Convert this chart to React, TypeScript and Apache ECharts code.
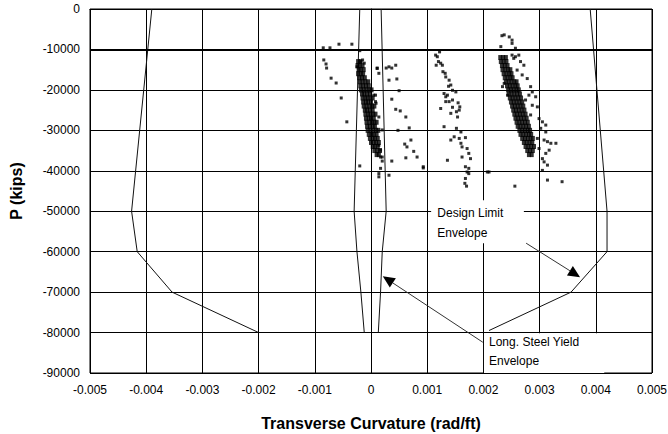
import React, { useEffect, useRef } from "react";
import * as echarts from "echarts";

// ---- axis settings ----
const xMin = -0.005;
const xMax = 0.005;
const xStep = 0.001;
const yMin = -90000;
const yMax = 0;
const yStep = 10000;

// ---- envelopes (curvature, P) ----
const designLeftCurv = [-0.0039, -0.00426, -0.00416, -0.00354, -0.002];
const designLeftP = [0, -50000, -60000, -70000, -80000];
const designRightCurv = [0.0039, 0.0042, 0.0042, 0.00356, 0.0021];
const designRightP = [0, -50000, -60000, -70000, -79500];
const yieldLeftCurv = [-0.0002, -0.0003, -0.00025, -0.00018, -0.00012];
const yieldLeftP = [0, -50000, -60000, -70000, -80000];
const yieldRightCurv = [0.00018, 0.00027, 0.0002, 0.00017, 0.00013];
const yieldRightP = [0, -50000, -60000, -70000, -80000];

// ---- dense measurement bands: [P, curvatures...] ----
const denseZeroRows: [number, number[]][] = [
  [-13000, [-0.00023, -0.00019]],
  [-14000, [-0.00024, -0.0002, -0.00015]],
  [-15000, [-0.00022, -0.00018, -0.00013]],
  [-16000, [-0.00023, -0.00018, -0.00014]],
  [-17000, [-0.00021, -0.00016, -0.00011]],
  [-18000, [-0.0002, -0.00015, -0.0001, -0.00005]],
  [-19000, [-0.00019, -0.00014, -0.00009, -0.00004]],
  [-20000, [-0.00018, -0.00013, -0.00008, -0.00003, 0.00001]],
  [-21000, [-0.00016, -0.00012, -0.00007, -0.00002]],
  [-22000, [-0.00015, -0.0001, -0.00006, -0.00001, 0.00003]],
  [-23000, [-0.00014, -0.00009, -0.00005, 0.0]],
  [-24000, [-0.00013, -0.00008, -0.00003, 0.00002, 0.00006]],
  [-25000, [-0.00011, -0.00007, -0.00002, 0.00003]],
  [-26000, [-0.0001, -0.00005, -0.00001, 0.00004, 0.00008]],
  [-27000, [-0.00009, -0.00004, 0.0, 0.00005]],
  [-28000, [-0.00008, -0.00003, 0.00002, 0.00006, 0.0001]],
  [-29000, [-0.00007, -0.00002, 0.00003, 0.00007]],
  [-30000, [-0.00006, -0.00001, 0.00004, 0.00009, 0.00013]],
  [-31000, [-0.00004, 0.00001, 0.00005, 0.0001]],
  [-32000, [-0.00002, 0.00003, 0.00007, 0.00012]],
  [-33000, [0.0, 0.00005, 0.00009, 0.00014]],
  [-34000, [0.00003, 0.00007, 0.00012]],
  [-35000, [0.00006, 0.00011, 0.00016]],
  [-36000, [0.0001, 0.00014]],
];

const denseRightRows: [number, number[]][] = [
  [-12000, [0.0023, 0.00235, 0.0024]],
  [-13000, [0.00231, 0.00236, 0.00241]],
  [-14000, [0.00233, 0.00238, 0.00243]],
  [-15000, [0.00234, 0.00239, 0.00244, 0.00248]],
  [-16000, [0.00236, 0.00241, 0.00246, 0.0025]],
  [-17000, [0.00238, 0.00243, 0.00248, 0.00252]],
  [-18000, [0.0024, 0.00245, 0.0025, 0.00255, 0.00259]],
  [-19000, [0.00242, 0.00247, 0.00252, 0.00257, 0.00261]],
  [-20000, [0.00244, 0.00249, 0.00254, 0.00259, 0.00263]],
  [-21000, [0.00245, 0.0025, 0.00255, 0.0026, 0.00265]],
  [-22000, [0.00247, 0.00252, 0.00257, 0.00262, 0.00267]],
  [-23000, [0.00249, 0.00254, 0.00259, 0.00264, 0.00269]],
  [-24000, [0.00251, 0.00256, 0.00261, 0.00266, 0.00271]],
  [-25000, [0.00253, 0.00258, 0.00263, 0.00268, 0.00273]],
  [-26000, [0.00255, 0.0026, 0.00265, 0.0027, 0.00275]],
  [-27000, [0.00257, 0.00262, 0.00267, 0.00272, 0.00277]],
  [-28000, [0.00259, 0.00264, 0.00269, 0.00274, 0.00279]],
  [-29000, [0.00261, 0.00266, 0.00271, 0.00276, 0.00281]],
  [-30000, [0.00264, 0.00269, 0.00274, 0.00279, 0.00283]],
  [-31000, [0.00266, 0.00271, 0.00276, 0.00281, 0.00285]],
  [-32000, [0.00269, 0.00274, 0.00279, 0.00284, 0.00288]],
  [-33000, [0.00272, 0.00277, 0.00282, 0.00287]],
  [-34000, [0.00275, 0.0028, 0.00285, 0.0029]],
  [-35000, [0.00278, 0.00283, 0.00288]],
  [-36000, [0.00281, 0.00286]],
];

// ---- sparse measurements [curvature, P] ----
const sparseLeft: [number, number][] = [
  [-0.00085, -9600], [-0.00073, -9600], [-0.00057, -8700], [-0.00034, -8700],
  [-0.0002, -10300], [-0.00084, -12600], [-0.0008, -13600], [-0.00079, -14600],
  [-0.00071, -17100], [-0.00062, -18300], [-0.00053, -22000], [-0.00043, -27900],
  [-0.0002, -38800],
];

const sparseNearZero: [number, number][] = [
  [0.00011, -14600], [0.00027, -14600], [0.00032, -14300], [0.00037, -14600],
  [0.00044, -13900], [0.00032, -17600], [0.00046, -17300], [0.0005, -20200],
  [0.00037, -22300], [0.00044, -24800], [0.00052, -25200], [0.00062, -26700],
  [0.00048, -30000], [0.00068, -29400], [0.00071, -32400], [0.0006, -33400],
  [0.00064, -34100], [0.00076, -35200], [0.00082, -36600], [0.00062, -36800],
  [0.00037, -37600], [0.00093, -39300], [0.00032, -41100], [0.00014, -41500],
  [0.0002, -37600], [0.00017, -36600], [0.00008, -21300], [0.00009, -23300],
  [-0.00025, -14300], [-0.00018, -13000], [-0.00015, -12600], [-0.00012, -13400],
  [0.00011, -14700], [0.00014, -15900], [0.00005, -21300], [0.00008, -22900],
  [0.00014, -26700], [0.0002, -29900], [0.00014, -33700], [0.00017, -34900],
  [0.0002, -36600], [0.00017, -39400], [0.00014, -40700],
];

const sparseMiddle: [number, number][] = [
  [0.00122, -10600], [0.00118, -11800], [0.0012, -13000], [0.00124, -13400],
  [0.00116, -13900], [0.00127, -13900], [0.00128, -15500], [0.00132, -15900],
  [0.00133, -16800], [0.00139, -17600], [0.00142, -18800], [0.00138, -19100],
  [0.00145, -20100], [0.00151, -20500], [0.0013, -20900], [0.00136, -21300],
  [0.00133, -21700], [0.00145, -22500], [0.00133, -22900], [0.00139, -22900],
  [0.00155, -23200], [0.00158, -24200], [0.00157, -25000], [0.00124, -24600],
  [0.00145, -24300], [0.00152, -25400], [0.00154, -26700], [0.00142, -25800],
  [0.0013, -29100], [0.00152, -29500], [0.0016, -30400], [0.00148, -31600],
  [0.00142, -32400], [0.00157, -32000], [0.0016, -33200], [0.00162, -34100],
  [0.00168, -31800], [0.00171, -34500], [0.00174, -35700], [0.00162, -36600],
  [0.00177, -37000], [0.00136, -37400], [0.00168, -39000], [0.00174, -39400],
  [0.00171, -40300], [0.00174, -40700], [0.00168, -41900], [0.00167, -43100],
  [0.0017, -43800], [0.00093, -39000], [0.00207, -40300], [0.00115, -11400],
];

const sparseRight: [number, number][] = [
  [0.00233, -6600], [0.00237, -6400], [0.00246, -6900], [0.00251, -7700],
  [0.00251, -8500], [0.00231, -9300], [0.00257, -9700], [0.00251, -11400],
  [0.00254, -12200], [0.00257, -11800], [0.00263, -11400], [0.00266, -13000],
  [0.00272, -13900], [0.0026, -15100], [0.00269, -16300], [0.00278, -17200],
  [0.00284, -19200], [0.00287, -20500], [0.00281, -21300], [0.00293, -21700],
  [0.00275, -22500], [0.00287, -23800], [0.00296, -24200], [0.00284, -26200],
  [0.00299, -27100], [0.00305, -27900], [0.00311, -28700], [0.00302, -29500],
  [0.00311, -30400], [0.00296, -32000], [0.00308, -32400], [0.00314, -32800],
  [0.0032, -33200], [0.00329, -33200], [0.00299, -34500], [0.00317, -34900],
  [0.00311, -35700], [0.00305, -37000], [0.00308, -37800], [0.00314, -38600],
  [0.00305, -39900], [0.00314, -42300], [0.0034, -42700], [0.0021, -40300],
  [0.00256, -43800], [0.00234, -19200], [0.00243, -21300], [0.00237, -18400],
];

// ---- annotations (data units) ----
const designLines = ["Design Limit", "Envelope"];
const designTextAt: [number, number][] = [[0.00118, -50500], [0.00118, -55400]];
const designBox: [number, number, number, number] = [0.00107, -47300, 0.00272, -57900];
const designArrow: [number, number, number, number] = [0.00276, -57900, 0.00372, -66300];
const steelLines = ["Long. Steel Yield", "Envelope"];
const steelTextAt: [number, number][] = [[0.0021, -82400], [0.0021, -87100]];
const steelBox: [number, number, number, number] = [0.00201, -80200, 0.00415, -90000];
const steelArrow: [number, number, number, number] = [0.00199, -82400, 0.00021, -66100];

const zip = (xs: number[], ps: number[]) => xs.map((x, i) => [x, ps[i]]);
const flatRows = (rows: [number, number[]][]) =>
  rows.flatMap(([p, xs]) => xs.map((x) => [x, p]));

const FONT = '"Liberation Sans", Arial, sans-serif';

export default function App() {
  const ref = useRef<HTMLDivElement>(null);
  useEffect(() => {
    if (!ref.current) return;
    const chart = echarts.init(ref.current, null, { renderer: "svg" });
    const envStyle = { color: "#111", width: 1 };
    const option: any = {
      animation: false,
      backgroundColor: "#fff",
      grid: {
        left: 90, right: 16, top: 9, bottom: 61,
        show: true, borderColor: "#000", borderWidth: 1,
        outerBoundsMode: "none",
      },
      xAxis: {
        type: "value", min: xMin, max: xMax, interval: xStep,
        name: "Transverse Curvature (rad/ft)",
        nameLocation: "middle", nameGap: 42,
        nameTextStyle: { fontFamily: FONT, fontWeight: "bold", fontSize: 16, color: "#000" },
        axisLine: { show: true, lineStyle: { color: "#000", width: 1 } },
        axisTick: { show: false },
        axisLabel: {
          margin: 11, fontFamily: FONT, fontSize: 12, color: "#000",
          formatter: (v: number) => (Math.abs(v) < 1e-9 ? "0" : v.toFixed(3)),
        },
        splitLine: { show: true, lineStyle: { color: "#000", width: 1 } },
      },
      yAxis: {
        type: "value", min: yMin, max: yMax, interval: yStep,
        name: "P (kips)", nameLocation: "middle", nameGap: 66, nameRotate: 90,
        nameTextStyle: { fontFamily: FONT, fontWeight: "bold", fontSize: 16, color: "#000" },
        axisLine: { show: true, lineStyle: { color: "#000", width: 1 } },
        axisTick: { show: false },
        axisLabel: {
          margin: 10, fontFamily: FONT, fontSize: 12, color: "#000",
          formatter: (v: number) => String(Math.round(v)),
        },
        splitLine: { show: true, lineStyle: { color: "#000", width: 1 } },
      },
      series: [
        {
          type: "line", data: zip(designLeftCurv, designLeftP), showSymbol: false,
          lineStyle: envStyle, z: 3,
          markLine: {
            silent: true, symbol: "none", label: { show: false },
            lineStyle: { color: "#000", width: 2, type: "solid" },
            data: [{ yAxis: -10000 }],
          },
        },
        { type: "line", data: zip(designRightCurv, designRightP), showSymbol: false, lineStyle: envStyle, z: 3 },
        { type: "line", data: zip(yieldLeftCurv, yieldLeftP), showSymbol: false, lineStyle: envStyle, z: 3 },
        { type: "line", data: zip(yieldRightCurv, yieldRightP), showSymbol: false, lineStyle: envStyle, z: 3 },
        {
          type: "scatter", symbol: "rect", symbolSize: [4, 5],
          itemStyle: { color: "#000" },
          data: [...flatRows(denseZeroRows), ...flatRows(denseRightRows)], z: 4,
        },
        {
          type: "scatter", symbol: "rect", symbolSize: 3,
          itemStyle: { color: "#000" },
          data: [...sparseLeft, ...sparseNearZero, ...sparseMiddle, ...sparseRight], z: 4,
        },
      ],
    };
    chart.setOption(option);

    const P = (x: number, y: number) =>
      chart.convertToPixel({ gridIndex: 0 } as any, [x, y]) as number[];
    const box = (b: [number, number, number, number]) => {
      const a = P(b[0], b[1]);
      const c = P(b[2], b[3]);
      return {
        type: "rect", z: 50,
        shape: { x: a[0], y: a[1], width: c[0] - a[0], height: c[1] - a[1] },
        style: { fill: "#fff", stroke: null },
      };
    };
    const texts = (lines: string[], at: [number, number][]) =>
      lines.map((t, i) => {
        const p = P(at[i][0], at[i][1]);
        return {
          type: "text", z: 51, x: p[0], y: p[1],
          style: { text: t, fill: "#000", font: `12px ${FONT}`, align: "left", verticalAlign: "middle" },
        };
      });
    const arrow = (a: [number, number, number, number]) => {
      const s = P(a[0], a[1]);
      const t = P(a[2], a[3]);
      const dx = t[0] - s[0];
      const dy = t[1] - s[1];
      const len = Math.hypot(dx, dy);
      const ux = dx / len;
      const uy = dy / len;
      const hl = 12;
      const hw = 5.5;
      const bx = t[0] - ux * hl;
      const by = t[1] - uy * hl;
      return [
        {
          type: "line", z: 52,
          shape: { x1: s[0], y1: s[1], x2: bx, y2: by },
          style: { stroke: "#333", lineWidth: 1 },
        },
        {
          type: "polygon", z: 52,
          shape: { points: [[t[0], t[1]], [bx - uy * hw, by + ux * hw], [bx + uy * hw, by - ux * hw]] },
          style: { fill: "#000" },
        },
      ];
    };
    chart.setOption({
      graphic: [
        box(designBox),
        box(steelBox),
        ...texts(designLines, designTextAt),
        ...texts(steelLines, steelTextAt),
        ...arrow(designArrow),
        ...arrow(steelArrow),
      ],
    });
    return () => chart.dispose();
  }, []);
  return (
    <div
      ref={ref}
      style={{ position: "fixed", left: 0, top: 0, width: 668, height: 434, background: "#fff" }}
    />
  );
}
